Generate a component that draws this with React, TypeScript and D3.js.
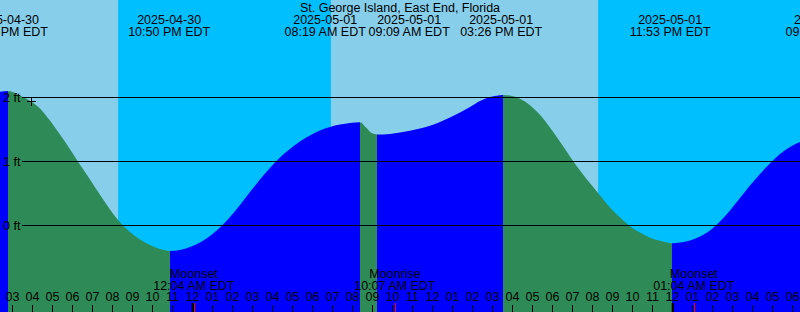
import React from "react";
import * as d3 from "d3";

const W = 800;
const H = 312;
const TITLE = "St. George Island, East End, Florida";
const FONT = '"Liberation Sans", Arial, Helvetica, sans-serif';
const FS = 12.5;

// Hours since 2025-04-30 00:00 EDT, and tide height (ft)
const tideHours = [
  14.125, 14.375, 14.775, 15.375, 15.875, 16.375, 16.875, 17.375, 17.875, 18.375,
  18.875, 19.375, 19.875, 20.375, 20.875, 21.375, 21.875, 22.375, 22.875, 23.375,
  23.875, 24.375, 24.875, 25.375, 25.875, 26.375, 26.875, 27.375, 27.875, 28.375,
  28.875, 29.375, 29.875, 30.375, 30.875, 31.375, 31.875, 32.375, 32.675, 32.975,
  33.225, 33.875, 34.375, 35.375, 35.875, 36.375, 36.875, 37.375, 37.875, 38.375,
  38.875, 39.375, 39.525, 39.875, 40.375, 40.875, 41.375, 41.875, 42.375, 42.875,
  43.375, 43.875, 44.375, 44.875, 45.375, 45.875, 46.375, 46.875, 47.375, 47.975,
  48.375, 48.875, 49.375, 49.875, 50.375, 50.875, 51.375, 51.875, 52.375, 52.875,
  53.375, 53.875, 54.375, 54.875,
];
const tideFeet = [
  2.06, 2.09, 2.10, 2.03, 1.95, 1.83, 1.64, 1.42, 1.19, 0.95,
  0.72, 0.48, 0.25, 0.05, -0.102, -0.219, -0.305, -0.367, -0.398, -0.383,
  -0.336, -0.266, -0.164, -0.031, 0.133, 0.32, 0.523, 0.719, 0.898, 1.063,
  1.195, 1.313, 1.406, 1.484, 1.539, 1.578, 1.602, 1.614, 1.53, 1.44,
  1.422, 1.43, 1.453, 1.516, 1.56, 1.617, 1.688, 1.766, 1.852, 1.945,
  2.008, 2.036, 2.039, 2.03, 1.98, 1.88, 1.73, 1.53, 1.31, 1.08,
  0.86, 0.66, 0.47, 0.28, 0.125, -0.01, -0.11, -0.19, -0.24, -0.277,
  -0.266, -0.234, -0.172, -0.078, 0.063, 0.234, 0.43, 0.625, 0.805, 0.969,
  1.117, 1.227, 1.305, 1.367,
];

// Tide event labels (top)
const eventHours = [14.725, 22.833, 32.317, 33.15, 39.433, 47.883, 55.68];
const eventDates = ["2025-04-30", "2025-04-30", "2025-05-01", "2025-05-01", "2025-05-01", "2025-05-01", "2025-05-02"];
const eventTimes = ["02:43 PM EDT", "10:50 PM EDT", "08:19 AM EDT", "09:09 AM EDT", "03:26 PM EDT", "11:53 PM EDT", "09:41 AM EDT"];

// Moon events (bottom)
const moonHours = [24.067, 34.117, 49.067];
const moonNames = ["Moonset", "Moonrise", "Moonset"];
const moonTimes = ["12:04 AM EDT", "10:07 AM EDT", "01:04 AM EDT"];

// Night intervals (sunset -> sunrise)
const nightStarts = [20.28, 44.28];
const nightEnds = [30.92, 60];

const yTicks = [0, 1, 2];
const nowHour = 15.9;

const DAY = "#87CEEB";
const NIGHT = "#00BFFF";
const RISING = "#0000FF";
const FALLING = "#2E8B57";

function measure(text: string): number {
  if (typeof document === "undefined") return text.length * 6.8;
  const c = document.createElement("canvas").getContext("2d");
  if (!c) return text.length * 6.8;
  c.font = `${FS}px ${FONT}`;
  return c.measureText(text).width;
}

export default function App() {
  const x = d3.scaleLinear().domain([15, 55]).range([12.5, 812.5]);
  const y = d3.scaleLinear().domain([0, 2]).range([225.5, 97.5]);

  const pts = tideHours.map((t, i) => ({ t, h: tideFeet[i] }));
  const area = d3
    .area<{ t: number; h: number }>()
    .x((d) => x(d.t))
    .y0(H)
    .y1((d) => y(d.h))
    .curve(d3.curveMonotoneX);
  const areaPath = area(pts) || "";

  // extremes -> rising/falling segments
  const bounds: number[] = [0];
  for (let i = 1; i < pts.length - 1; i++) {
    if ((pts[i].h - pts[i - 1].h) * (pts[i + 1].h - pts[i].h) < 0) bounds.push(i);
  }
  bounds.push(pts.length - 1);
  const segs = [] as { x0: number; x1: number; color: string }[];
  for (let k = 0; k < bounds.length - 1; k++) {
    const a = pts[bounds[k]];
    const b = pts[bounds[k + 1]];
    segs.push({
      x0: k === 0 ? -10 : x(a.t),
      x1: k === bounds.length - 2 ? W + 10 : x(b.t),
      color: b.h > a.h ? RISING : FALLING,
    });
  }

  // top labels with overlap resolution
  const labels = eventHours.map((t, i) => ({
    cx: x(t),
    w: Math.max(measure(eventDates[i]), measure(eventTimes[i])),
    date: eventDates[i],
    time: eventTimes[i],
  }));
  for (let iter = 0; iter < 5; iter++) {
    for (let i = 0; i < labels.length - 1; i++) {
      const a = labels[i];
      const b = labels[i + 1];
      const need = (a.w + b.w) / 2 + 2;
      const gap = b.cx - a.cx;
      if (gap < need) {
        const d = (need - gap) / 2;
        a.cx -= d;
        b.cx += d;
      }
    }
  }

  const hours = d3.range(15, 55);
  const fmtHour = (t: number) => {
    const h = t % 12 === 0 ? 12 : t % 12;
    return h < 10 ? "0" + h : String(h);
  };

  // now marker on curve
  const nowH = (() => {
    for (let i = 0; i < pts.length - 1; i++) {
      if (pts[i].t <= nowHour && pts[i + 1].t >= nowHour) {
        const f = (nowHour - pts[i].t) / (pts[i + 1].t - pts[i].t);
        return pts[i].h + f * (pts[i + 1].h - pts[i].h);
      }
    }
    return 0;
  })();
  const nx = Math.round(x(nowHour)) + 0.5;
  const ny = Math.round(y(nowH)) + 0.5;

  return (
    <svg
      width={W}
      height={H}
      style={{ position: "absolute", left: 0, top: 0, display: "block" }}
      fontFamily={FONT}
      fontSize={FS}
    >
      <defs>
        {segs.map((s, i) => (
          <clipPath id={`seg${i}`} key={i}>
            <rect x={s.x0} y={0} width={s.x1 - s.x0} height={H} />
          </clipPath>
        ))}
      </defs>
      <rect x={0} y={0} width={W} height={H} fill={DAY} />
      {nightStarts.map((s, i) => (
        <rect key={i} x={x(s)} y={0} width={Math.max(0, Math.min(W, x(nightEnds[i])) - x(s))} height={H} fill={NIGHT} />
      ))}
      {segs.map((s, i) => (
        <path key={i} d={areaPath} fill={s.color} clipPath={`url(#seg${i})`} />
      ))}

      {/* grid lines & y labels */}
      {yTicks.map((v) => (
        <g key={v}>
          <line x1={22} x2={W} y1={Math.floor(y(v)) + 0.5} y2={Math.floor(y(v)) + 0.5} stroke="#000" strokeWidth={1} />
          <text x={3} y={Math.floor(y(v)) + 5}>{`${v} ft`}</text>
        </g>
      ))}

      {/* now marker */}
      <line x1={nx - 4.5} x2={nx + 4.5} y1={ny} y2={ny} stroke="#000" strokeWidth={1} />
      <line x1={nx} x2={nx} y1={ny - 4.5} y2={ny + 4.5} stroke="#000" strokeWidth={1} />

      {/* title & event labels */}
      <text x={W / 2} y={11.5} textAnchor="middle">{TITLE}</text>
      {labels.map((l, i) => (
        <g key={i}>
          <text x={l.cx} y={24} textAnchor="middle">{l.date}</text>
          <text x={l.cx} y={36} textAnchor="middle">{l.time}</text>
        </g>
      ))}

      {/* hour ticks */}
      {hours.map((t) => {
        const xx = x(t);
        const midnight = t % 24 === 0;
        return (
          <g key={t}>
            <text x={xx} y={301} textAnchor="middle">{fmtHour(t)}</text>
            {midnight ? (
              <rect x={Math.floor(xx) - 0.3} y={303} width={2.3} height={9} fill="#000" />
            ) : (
              <rect x={Math.floor(xx)} y={305} width={1} height={7} fill="#000" />
            )}
          </g>
        );
      })}

      {/* moon events */}
      {moonHours.map((t, i) => (
        <g key={i}>
          <text x={x(t)} y={278} textAnchor="middle">{moonNames[i]}</text>
          <text x={x(t)} y={290} textAnchor="middle">{moonTimes[i]}</text>
          <rect x={Math.round(x(t))} y={303} width={1} height={9} fill="#FF0000" />
        </g>
      ))}
    </svg>
  );
}
